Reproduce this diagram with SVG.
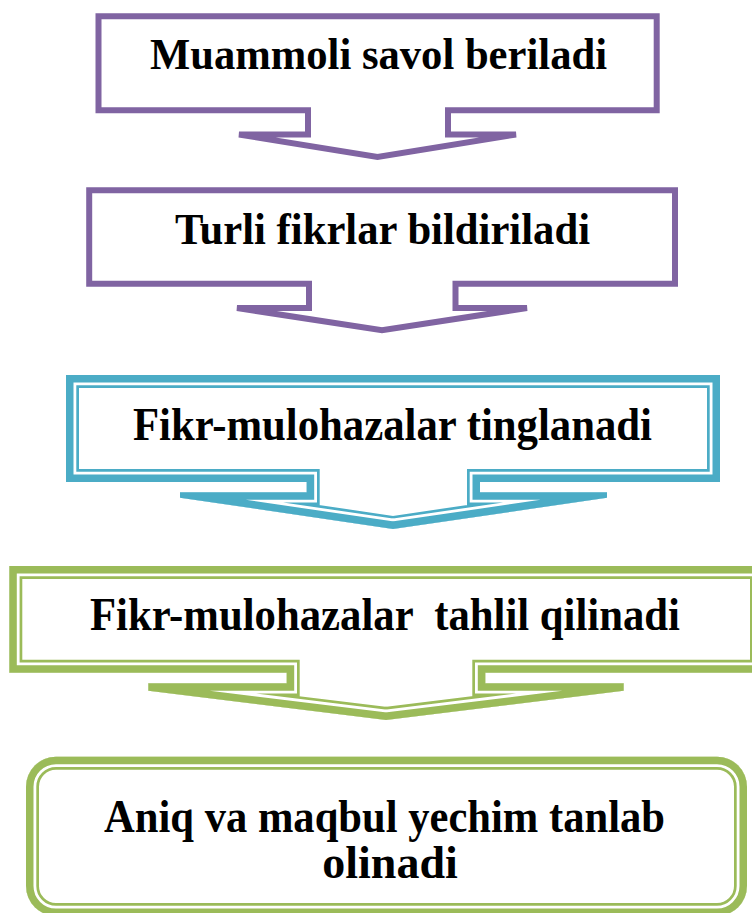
<svg xmlns="http://www.w3.org/2000/svg" xmlns:xlink="http://www.w3.org/1999/xlink" width="752" height="913" viewBox="0 0 752 913">
<style>
  .bg { fill: #ffffff; }
  .purple { fill: #ffffff; stroke: #8064A2; stroke-width: 6; stroke-linejoin: miter; stroke-miterlimit: 4; }
  .fillw { fill: #ffffff; stroke: none; }
  .band1 { fill: none; stroke-width: 26; stroke-linejoin: miter; stroke-miterlimit: 10; }
  .band2 { fill: none; stroke: #ffffff; stroke-width: 20.6; stroke-linejoin: miter; stroke-miterlimit: 10; }
  .band3 { fill: none; stroke-width: 15; stroke-linejoin: miter; stroke-miterlimit: 10; }
  .blue { stroke: #4BACC6; }
  .green { stroke: #9BBB59; }
  .lbl { font-family: "Liberation Serif", "Times New Roman", serif; font-weight: bold; font-size: 44px; fill: #000000; text-anchor: middle; }
  .tall { font-size: 46px; }
</style>
<defs>
  <path id="p3" d="M66,375 H720 V482 H480 V492.3 H607 V497.7 L393,529 L180,497.7 V492.3 H306.7 V482 H66 Z"/>
  <path id="p4" d="M9.3,566 H763 V672.7 H485.3 V683.3 H623.7 V690.7 L386,720 L148.3,690.7 V683.3 H286.7 V672.7 H9.3 Z"/>
  <rect id="p5" x="26" y="756.7" width="721" height="159.3" rx="30" ry="30"/>
  <clipPath id="c3"><use xlink:href="#p3"/></clipPath>
  <clipPath id="c4"><use xlink:href="#p4"/></clipPath>
  <clipPath id="c5"><use xlink:href="#p5"/></clipPath>
</defs>
<rect class="bg" x="0" y="0" width="752" height="913"/>

<g id="node1">
  <path class="purple" d="M98.5,16.3 H656.7 V110.3 H448 V134.5 H516 L377.5,157 L239,134.5 H308 V110.3 H98.5 Z"/>
  <text class="lbl" x="378.5" y="69" textLength="457" lengthAdjust="spacingAndGlyphs">Muammoli savol beriladi</text>
</g>

<g id="node2">
  <path class="purple" d="M89.2,190.3 H675 V283.7 H455.5 V308 H527 L382,330.3 L237,308 H309 V283.7 H89.2 Z"/>
  <text class="lbl" x="382.5" y="244" textLength="415" lengthAdjust="spacingAndGlyphs">Turli fikrlar bildiriladi</text>
</g>

<g id="node3">
  <use xlink:href="#p3" class="fillw"/>
  <g clip-path="url(#c3)">
    <use xlink:href="#p3" class="band1 blue"/>
    <use xlink:href="#p3" class="band2"/>
    <use xlink:href="#p3" class="band3 blue"/>
  </g>
  <text class="lbl tall" x="392.5" y="440" textLength="519" lengthAdjust="spacingAndGlyphs">Fikr-mulohazalar tinglanadi</text>
</g>

<g id="node4">
  <use xlink:href="#p4" class="fillw"/>
  <g clip-path="url(#c4)">
    <use xlink:href="#p4" class="band1 green"/>
    <use xlink:href="#p4" class="band2"/>
    <use xlink:href="#p4" class="band3 green"/>
  </g>
  <text class="lbl tall" x="385" y="630" textLength="590" lengthAdjust="spacingAndGlyphs" xml:space="preserve">Fikr-mulohazalar  tahlil qilinadi</text>
</g>

<g id="node5">
  <use xlink:href="#p5" class="fillw"/>
  <g clip-path="url(#c5)">
    <use xlink:href="#p5" class="band1 green"/>
    <use xlink:href="#p5" class="band2"/>
    <use xlink:href="#p5" class="band3 green"/>
  </g>
  <text class="lbl tall" x="384.5" y="832" textLength="561" lengthAdjust="spacingAndGlyphs">Aniq va maqbul yechim tanlab</text>
  <text class="lbl tall" x="390" y="878">olinadi</text>
</g>

<g id="connectors"/>
</svg>
